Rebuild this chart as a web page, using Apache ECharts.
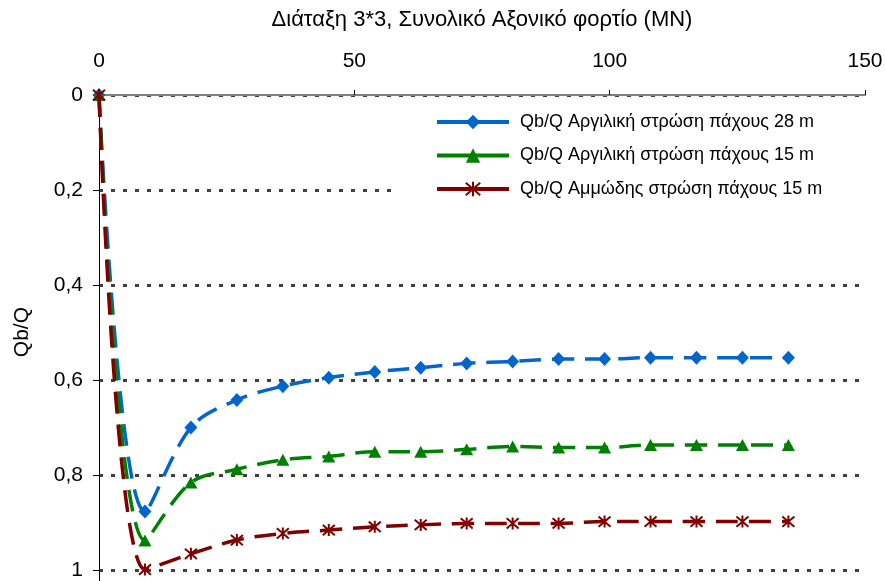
<!DOCTYPE html>
<html>
<head>
<meta charset="utf-8">
<script src="https://cdn.jsdelivr.net/npm/echarts@6/dist/echarts.min.js"></script>
<style>
html,body{margin:0;padding:0;background:#fff;}
#chart{width:885px;height:581px;}
</style>
</head>
<body>
<div id="chart"></div>
<script>
// Load (MN)
var loads = [0, 9, 18, 27, 36, 45, 54, 63, 72, 81, 90, 99, 108, 117, 126, 135];
// Qb/Q values
var clay28 = [0, 0.877, 0.700, 0.642, 0.613, 0.595, 0.583, 0.574, 0.565, 0.561, 0.556, 0.556, 0.553, 0.553, 0.553, 0.553];
var clay15 = [0, 0.938, 0.816, 0.788, 0.768, 0.761, 0.751, 0.751, 0.746, 0.740, 0.742, 0.742, 0.737, 0.737, 0.737, 0.737];
var sand15 = [0, 0.999, 0.966, 0.937, 0.923, 0.916, 0.909, 0.905, 0.902, 0.902, 0.902, 0.898, 0.898, 0.898, 0.898, 0.898];
var seriesNames = [
  'Qb/Q Αργιλική στρώση πάχους 28 m',
  'Qb/Q Αργιλική στρώση πάχους 15 m',
  'Qb/Q Αμμώδης στρώση πάχους 15 m'
];
var xTitle = 'Διάταξη 3*3, Συνολικό Αξονικό φορτίο (MN)';
var yTitle = 'Qb/Q';

function pairs(xs, ys) { return xs.map(function (x, i) { return [x, ys[i]]; }); }

var FONT = '"Liberation Sans", Arial, sans-serif';
var asterisk = 'path://M0,0L12,12M12,0L0,12M6,-1L6,13';

var chart = echarts.init(document.getElementById('chart'), null, {renderer: 'canvas'});
var dash = [22, 11];
chart.setOption({
  animation: false,
  backgroundColor: '#ffffff',
  grid: {left: 99, width: 766, top: 95, height: 570, containLabel: false, outerBoundsMode: 'none'},
  xAxis: {
    type: 'value', position: 'top', min: 0, max: 150, interval: 50,
    name: xTitle, nameLocation: 'middle', nameGap: 64,
    nameTextStyle: {fontFamily: FONT, fontSize: 22, color: '#000'},
    axisLine: {show: true, onZero: false, lineStyle: {color: '#808080', width: 2}},
    axisTick: {show: true, inside: false, length: 5, lineStyle: {color: '#000', width: 1}},
    axisLabel: {fontFamily: FONT, fontSize: 21, color: '#000', margin: 23},
    splitLine: {show: false}
  },
  yAxis: {
    type: 'value', inverse: true, min: 0, max: 1.2, interval: 0.2,
    axisLine: {show: true, onZero: false, lineStyle: {color: '#000', width: 1}},
    axisTick: {show: true, inside: false, length: 6, lineStyle: {color: '#000', width: 1}},
    axisLabel: {fontFamily: FONT, fontSize: 21, color: '#000', margin: 16,
      formatter: function (v) { return (Math.round(v * 10) / 10).toString().replace('.', ','); }},
    splitLine: {show: true, lineStyle: {color: '#404040', width: 3, type: [4, 8]}}
  },
  graphic: [{
    type: 'text', left: 12, top: 307, rotation: Math.PI / 2,
    style: {text: yTitle, fontFamily: FONT, fontSize: 21, fill: '#000'}
  }],
  legend: {
    orient: 'vertical', left: 393, top: 104,
    padding: [9, 60, 9, 42],
    backgroundColor: '#ffffff',
    itemWidth: 72, itemHeight: 18, itemGap: 15.5,
    lineStyle: {type: 'solid', width: 4},
    textStyle: {fontFamily: FONT, fontSize: 18, color: '#000', padding: [0, 0, 0, 6]},
    data: seriesNames
  },
  series: [
    {
      name: seriesNames[0], type: 'line', data: pairs(loads, clay28),
      smooth: 0.35, symbol: 'diamond', symbolSize: [13, 14],
      lineStyle: {color: '#0066CC', width: 3.5, type: dash},
      itemStyle: {color: '#0066CC'}, z: 3
    },
    {
      name: seriesNames[1], type: 'line', data: pairs(loads, clay15),
      smooth: 0.35, symbol: 'triangle', symbolSize: [13, 12],
      lineStyle: {color: '#008000', width: 3.5, type: dash},
      itemStyle: {color: '#008000'}, z: 4
    },
    {
      name: seriesNames[2], type: 'line', data: pairs(loads, sand15),
      smooth: 0.35, symbol: asterisk, symbolSize: 12,
      lineStyle: {color: '#800000', width: 3.5, type: dash},
      itemStyle: {color: '#800000', borderColor: '#800000', borderWidth: 2}, z: 5
    }
  ]
});
</script>
</body>
</html>
